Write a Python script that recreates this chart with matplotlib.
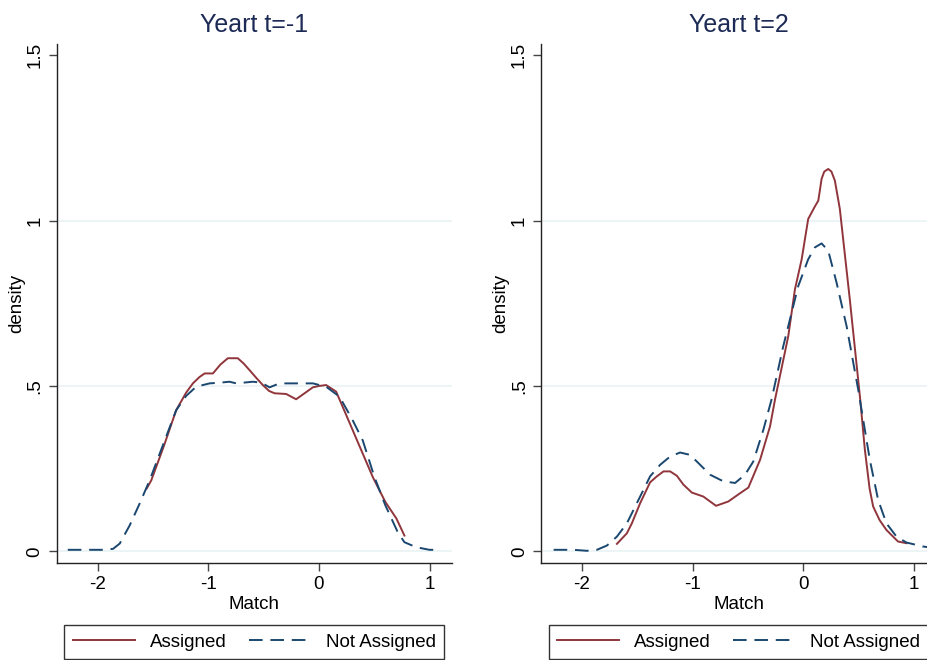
import matplotlib
matplotlib.use('Agg')
import matplotlib.pyplot as plt

plt.rcParams['font.family'] = ['Liberation Sans', 'DejaVu Sans']

# panel titles and legend labels
titles = ['Yeart t=-1', 'Yeart t=2']
labels = ['Assigned', 'Not Assigned']

# Yeart t=-1, assigned
x1_a = [-1.557, -1.515, -1.40, -1.29, -1.20, -1.139, -1.08, -1.033, -0.958, -0.89, -0.823,
        -0.733, -0.68, -0.627, -0.567, -0.507, -0.45, -0.40, -0.296, -0.206, -0.13, -0.055,
        0.0, 0.065, 0.156, 0.25, 0.351, 0.487, 0.60, 0.70, 0.773]
y1_a = [0.19, 0.215, 0.32, 0.427, 0.48, 0.508, 0.527, 0.538, 0.538, 0.565, 0.584,
        0.584, 0.568, 0.548, 0.525, 0.503, 0.485, 0.478, 0.476, 0.46, 0.478, 0.496,
        0.50, 0.503, 0.483, 0.41, 0.331, 0.225, 0.15, 0.10, 0.048]

# Yeart t=-1, not assigned
x1_n = [-2.27, -2.1, -1.95, -1.86, -1.80, -1.71, -1.62, -1.53, -1.40, -1.29, -1.20, -1.109,
        -0.988, -0.90, -0.808, -0.747, -0.597, -0.52, -0.446, -0.356, -0.25, -0.175, -0.055,
        0.065, 0.186, 0.30, 0.396, 0.502, 0.60, 0.713, 0.773, 0.878, 1.0, 1.07]
y1_n = [0.005, 0.005, 0.005, 0.008, 0.024, 0.079, 0.145, 0.215, 0.33, 0.427, 0.47, 0.498,
        0.508, 0.51, 0.513, 0.508, 0.513, 0.51, 0.496, 0.508, 0.508, 0.508, 0.508,
        0.498, 0.468, 0.40, 0.336, 0.225, 0.14, 0.058, 0.028, 0.013, 0.005, 0.005]

# Yeart t=2, assigned
x2_a = [-1.684, -1.594, -1.549, -1.474, -1.384, -1.323, -1.263, -1.203, -1.143, -1.083,
        -1.007, -0.903, -0.788, -0.677, -0.571, -0.496, -0.39, -0.30, -0.255, -0.135,
        -0.075, -0.014, 0.045, 0.106, 0.136, 0.15, 0.166, 0.19, 0.226, 0.255, 0.286,
        0.331, 0.421, 0.515, 0.557, 0.60, 0.632, 0.69, 0.752, 0.857, 0.933]
y2_a = [0.023, 0.055, 0.085, 0.146, 0.209, 0.227, 0.242, 0.242, 0.229, 0.202,
        0.178, 0.166, 0.138, 0.151, 0.176, 0.193, 0.277, 0.378, 0.459, 0.651,
        0.792, 0.883, 1.005, 1.043, 1.06, 1.09, 1.126, 1.148, 1.156, 1.148, 1.121,
        1.035, 0.762, 0.46, 0.308, 0.19, 0.136, 0.095, 0.065, 0.030, 0.025]

# Yeart t=2, not assigned
x2_n = [-2.256, -2.076, -1.955, -1.865, -1.774, -1.684, -1.594, -1.489, -1.384, -1.293,
        -1.203, -1.113, -1.023, -0.932, -0.842, -0.722, -0.616, -0.526, -0.451, -0.36,
        -0.285, -0.180, -0.045, 0.045, 0.106, 0.166, 0.226, 0.301, 0.392, 0.497, 0.602,
        0.677, 0.752, 0.843, 0.933, 1.083, 1.15]
y2_n = [0.005, 0.005, 0.002, 0.005, 0.018, 0.045, 0.085, 0.156, 0.227, 0.262,
        0.287, 0.299, 0.292, 0.262, 0.232, 0.212, 0.207, 0.232, 0.272, 0.368,
        0.461, 0.621, 0.802, 0.883, 0.919, 0.931, 0.909, 0.813, 0.681, 0.489, 0.277,
        0.156, 0.085, 0.045, 0.027, 0.015, 0.012]

xticks = [-2, -1, 0, 1]
xticklabels = ['-2', '-1', '0', '1']
yticks = [0, 0.5, 1, 1.5]
yticklabels = ['0', '.5', '1', '1.5']

red = '#90353b'
navy = '#1a476f'

fig = plt.figure(figsize=(9.28, 6.6), dpi=100)
panels = [(x1_a, y1_a, x1_n, y1_n), (x2_a, y2_a, x2_n, y2_n)]
lefts = [0.0611, 0.583]

for i, (xa, ya, xn, yn) in enumerate(panels):
    ax = fig.add_axes([lefts[i], 0.1474, 0.4256, 0.7866])
    for g in [0, 0.5, 1]:
        ax.axhline(g, color='#eaf2f3', lw=1.2, zorder=0)
    ax.plot(xa, ya, color=red, lw=1.4, label=labels[0])
    ax.plot(xn, yn, color=navy, lw=1.4, dashes=(7, 4), label=labels[1])
    ax.set_xlim(-2.37, 1.2)
    ax.set_ylim(-0.034, 1.535)
    ax.spines['top'].set_visible(False)
    ax.spines['right'].set_visible(False)
    for s in ['left', 'bottom']:
        ax.spines[s].set_linewidth(1.0)
        ax.spines[s].set_color('#222222')
    ax.set_xticks(xticks)
    ax.set_xticklabels(xticklabels)
    ax.set_yticks(yticks)
    ax.set_yticklabels(yticklabels, rotation=90, va='center')
    ax.tick_params(axis='both', direction='out', length=5.5, width=1.0,
                   color='#444444', labelsize=13.5, pad=4)
    ax.set_xlabel('Match', fontsize=13.5, labelpad=2)
    ax.set_ylabel('density', fontsize=13.5, labelpad=1)
    ax.set_title(titles[i], fontsize=18, color='#1c2a55', pad=8)
    leg = ax.legend(loc='upper center', bbox_to_anchor=(0.5, -0.12), ncol=2,
                    fontsize=13.5, handlelength=3.3, handletextpad=0.8,
                    columnspacing=1.2, borderaxespad=0, fancybox=False,
                    borderpad=0.45)
    leg.get_frame().set_edgecolor('black')
    leg.get_frame().set_linewidth(1.0)

fig.savefig('out.png', dpi=100, facecolor='white')
